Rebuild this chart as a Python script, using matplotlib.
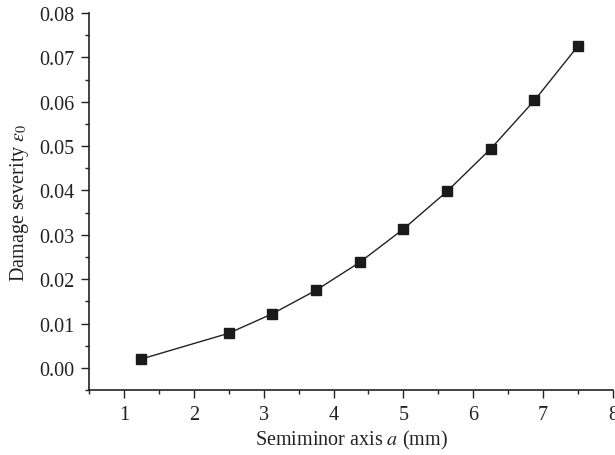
import matplotlib
matplotlib.use("Agg")
import matplotlib.pyplot as plt
from matplotlib.ticker import MultipleLocator

# semiminor axis (mm) and damage severity
a_mm = [1.25, 2.5, 3.125, 3.75, 4.375, 5.0, 5.625, 6.25, 6.875, 7.5]
severity = [0.0020, 0.0078, 0.0122, 0.0175, 0.0238, 0.0313, 0.0398, 0.0494, 0.0603, 0.0726]

plt.rcParams['font.family'] = ['Liberation Serif', 'DejaVu Serif']
plt.rcParams['mathtext.fontset'] = 'stix'

fig = plt.figure(figsize=(6.15, 4.56), dpi=100)
ax = fig.add_axes([0.1447, 0.1425, 0.852, 0.8265])

ax.plot(a_mm, severity, color='#222222', linewidth=1.0, marker='s',
        markersize=6.5, markerfacecolor='#1a1a1a', markeredgecolor='#1a1a1a')

ax.set_xlim(0.5, 8)
ax.set_ylim(-0.005, 0.08)
ax.xaxis.set_minor_locator(MultipleLocator(0.5))
ax.yaxis.set_minor_locator(MultipleLocator(0.005))
yticks = [0.0, 0.01, 0.02, 0.03, 0.04, 0.05, 0.06, 0.07, 0.08]
ax.set_yticks(yticks)
ax.set_yticklabels([f'{v:.2f}' for v in yticks])
ax.set_xticks(range(1, 9))

for side in ('top', 'right'):
    ax.spines[side].set_visible(False)
for side in ('left', 'bottom'):
    ax.spines[side].set_linewidth(1.2)
    ax.spines[side].set_color('#222222')

ax.tick_params(which='major', direction='out', length=5.5, width=1.0,
               labelsize=14.5, colors='#222222', pad=5)
ax.tick_params(which='minor', direction='out', length=3, width=1.0,
               colors='#222222')

ax.set_xlabel('Semiminor axis $a$ (mm)', fontsize=14.5, color='#222222', labelpad=3)
ax.set_ylabel(r'Damage severity $\varepsilon_0$', fontsize=14.5, color='#222222', labelpad=6)

fig.savefig('out.png', dpi=100)
